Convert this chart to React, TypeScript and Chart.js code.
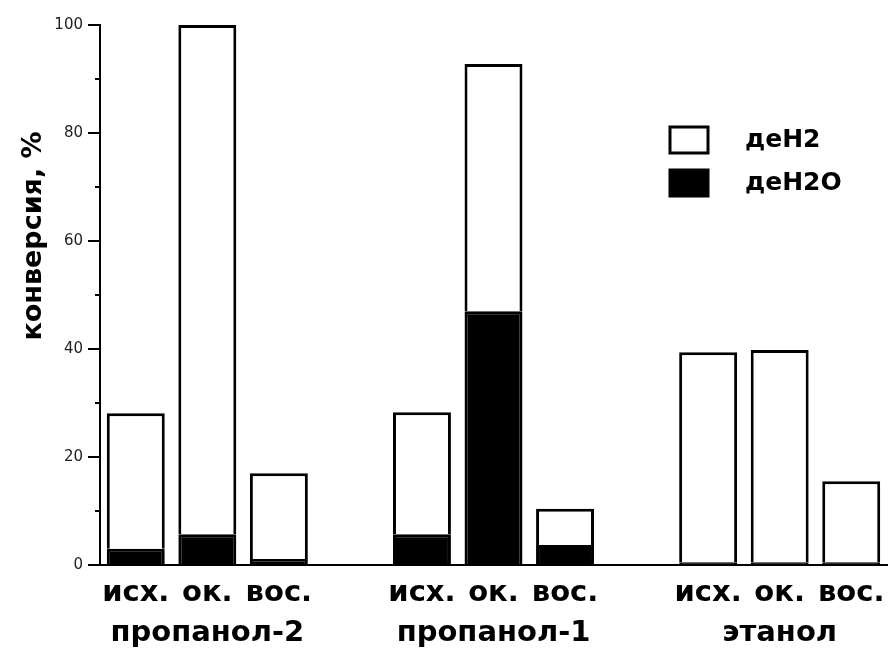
import React, { useEffect, useRef } from "react";
import { Chart, registerables } from "chart.js";

Chart.register(...registerables);

const sampleLabels = ["исх.", "ок.", "вос.", "", "исх.", "ок.", "вос.", "", "исх.", "ок.", "вос."];
const groupNames = ["", "пропанол-2", "", "", "", "пропанол-1", "", "", "", "этанол", ""];
const deH2O = [3, 5.7, 1.1, null, 5.7, 47, 3.7, null, 0.5, 0.5, 0.5];
const deH2 = [25.1, 94.3, 15.9, null, 22.6, 45.8, 6.7, null, 38.9, 39.3, 15.0];
const yTicks = [0, 20, 40, 60, 80, 100];
const yMinorTicks = [10, 30, 50, 70, 90];
const yTitle = "конверсия, %";

const FONT = "'DejaVu Sans', 'Liberation Sans', Arial, sans-serif";

const overlayPlugin = {
  id: "overlay",
  afterDraw(chart: any) {
    const ctx = chart.ctx;
    const y = chart.scales.y;
    ctx.save();
    ctx.strokeStyle = "#000";
    ctx.lineWidth = 2;
    yMinorTicks.forEach((v) => {
      const py = Math.round(y.getPixelForValue(v));
      ctx.beginPath();
      ctx.moveTo(y.right - 5, py);
      ctx.lineTo(y.right, py);
      ctx.stroke();
    });
    ctx.save();
    ctx.translate(34, 236);
    ctx.rotate(-Math.PI / 2);
    ctx.font = `bold 27px ${FONT}`;
    ctx.fillStyle = "#000";
    ctx.textAlign = "center";
    ctx.textBaseline = "middle";
    ctx.fillText(yTitle, 0, 0);
    ctx.restore();
    const ds = chart.data.datasets.slice().reverse();
    ds.forEach((d: any, i: number) => {
      const bx = 670;
      const by = 127 + i * 43;
      ctx.fillStyle = d.backgroundColor;
      ctx.fillRect(bx, by, 38, 26);
      ctx.strokeStyle = "#000";
      ctx.lineWidth = 3;
      ctx.strokeRect(bx, by, 38, 26);
      ctx.fillStyle = "#000";
      ctx.font = `bold 25px ${FONT}`;
      ctx.textAlign = "left";
      ctx.textBaseline = "middle";
      ctx.fillText(d.label, 745, by + 13);
    });
    ctx.restore();
  },
};

export default function App() {
  const ref = useRef<HTMLCanvasElement>(null);
  useEffect(() => {
    document.body.style.margin = "0";
    const labels = sampleLabels.map((s, i) => [s, groupNames[i]]);
    const chart = new Chart(ref.current!, {
      type: "bar",
      data: {
        labels,
        datasets: [
          {
            label: "деН2О",
            data: deH2O,
            backgroundColor: "#000",
            borderColor: "#000",
            borderWidth: 3,
            barPercentage: 0.81,
            categoryPercentage: 1,
          },
          {
            label: "деН2",
            data: deH2,
            backgroundColor: "#fff",
            borderColor: "#000",
            borderWidth: 3,
            barPercentage: 0.81,
            categoryPercentage: 1,
          },
        ],
      },
      options: {
        responsive: false,
        animation: false,
        layout: { padding: { top: 25, right: 6, left: 0, bottom: 0 } },
        plugins: { legend: { display: false }, tooltip: { enabled: false } },
        scales: {
          x: {
            stacked: true,
            grid: { display: false, drawTicks: false },
            border: { display: true, color: "#000", width: 2 },
            ticks: {
              font: { family: FONT, weight: "bold", size: 29, lineHeight: 1.4 },
              color: "#000",
              padding: 8,
              maxRotation: 0,
              autoSkip: false,
            },
            afterFit: (s: any) => {
              s.height = 85;
            },
          },
          y: {
            stacked: true,
            min: 0,
            max: 100,
            afterBuildTicks: (s: any) => {
              s.ticks = yTicks.map((v) => ({ value: v }));
            },
            ticks: {
              font: { family: FONT, size: 15 },
              color: "#222",
              padding: 5,
            },
            grid: { drawOnChartArea: false, tickLength: 12, color: "#000", lineWidth: 2 },
            border: { color: "#000", width: 2 },
            afterFit: (s: any) => {
              s.width = 100;
            },
          },
        },
      },
      plugins: [overlayPlugin],
    });
    return () => chart.destroy();
  }, []);
  return (
    <div style={{ width: 893, height: 650 }}>
      <canvas ref={ref} width={893} height={650} />
    </div>
  );
}
